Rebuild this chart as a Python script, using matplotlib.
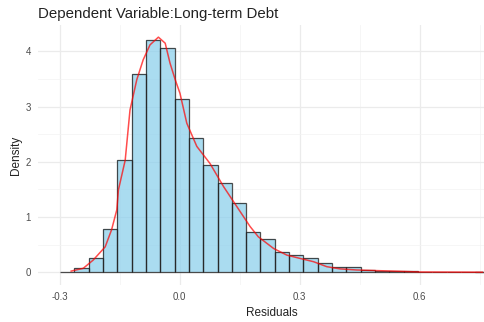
import numpy as np
import matplotlib
matplotlib.use("Agg")
import matplotlib.pyplot as plt

# histogram (density scale), 30 bins
bin_start = -0.299
bin_width = 0.0358
densities = [0.01, 0.07, 0.25, 0.78, 2.03, 3.59, 4.21, 4.07, 3.13, 2.43,
             1.94, 1.61, 1.26, 0.72, 0.61, 0.37, 0.31, 0.25, 0.17, 0.09,
             0.09, 0.04, 0.03, 0.025, 0.015, 0.005, 0.008, 0.0, 0.0, 0.003]

# kernel density curve
kde_x = [-0.271, -0.241, -0.216, -0.186, -0.170, -0.157, -0.153, -0.136, -0.124,
         -0.107, -0.091, -0.074, -0.053, -0.036, -0.024, -0.011, 0.001, 0.018,
         0.043, 0.076, 0.110, 0.143, 0.176, 0.197, 0.235, 0.268, 0.301, 0.335,
         0.368, 0.401, 0.443, 0.551, 0.601, 0.757]
kde_y = [0.02, 0.07, 0.22, 0.46, 0.77, 1.13, 1.49, 2.03, 2.94,
         3.49, 3.85, 4.12, 4.26, 4.15, 3.79, 3.49, 3.24, 2.70,
         2.28, 1.97, 1.55, 1.19, 0.83, 0.64, 0.43, 0.31, 0.25, 0.19,
         0.10, 0.06, 0.04, 0.016, 0.004, 0.0]

x_ticks = [-0.3, 0.0, 0.3, 0.6]
y_ticks = [0, 1, 2, 3, 4]

plt.rcParams['font.family'] = ['Liberation Sans', 'DejaVu Sans']

fig = plt.figure(figsize=(4.85, 3.22), dpi=100)
# panel runs a little past the right edge, as in the cropped original
ax = fig.add_axes([38/485, 1 - 285/322, (506 - 38)/485, (285 - 25)/322])

edges = bin_start + bin_width * np.arange(len(densities) + 1)
ax.bar(edges[:-1], densities, width=bin_width, align='edge',
       color='#87CEEB', alpha=0.7, edgecolor='none', zorder=2)
ax.bar(edges[:-1], densities, width=bin_width, align='edge',
       facecolor='none', edgecolor='#222222', linewidth=0.9, alpha=0.8, zorder=3)
ax.plot(kde_x, kde_y, color='red', alpha=0.7, linewidth=1.1, zorder=4)

ax.set_xlim(-0.354, 0.816)
ax.set_ylim(-0.232, 4.48)
ax.set_xticks(x_ticks)
ax.set_xticklabels(['-0.3', '0.0', '0.3', '0.6'])
ax.set_yticks(y_ticks)
ax.set_xticks([-0.15, 0.15, 0.45, 0.75], minor=True)
ax.set_yticks([0.5, 1.5, 2.5, 3.5], minor=True)

ax.grid(True, which='major', color='#EBEBEB', linewidth=0.9, zorder=0)
ax.grid(True, which='minor', color='#F3F3F3', linewidth=0.5, zorder=0)
ax.set_axisbelow(True)
for s in ax.spines.values():
    s.set_visible(False)
ax.tick_params(which='both', length=0, labelsize=7, labelcolor='#4D4D4D', pad=5)

ax.set_xlabel('Residuals', fontsize=8.5, color='#222222', labelpad=4)
ax.set_ylabel('Density', fontsize=8.5, color='#222222', labelpad=3)
ax.set_title('Dependent Variable:Long-term Debt', loc='left', fontsize=10.8,
             color='#222222', pad=5)

fig.savefig('out.png', dpi=100)
